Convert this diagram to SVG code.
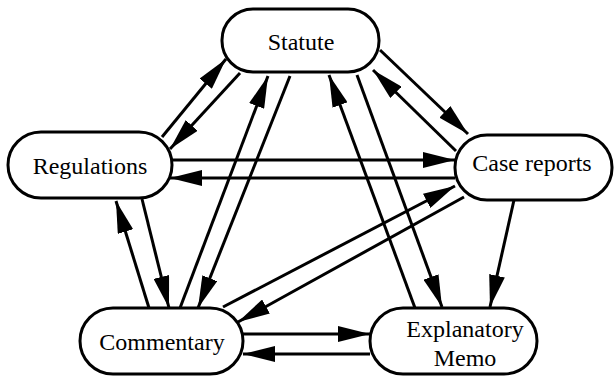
<svg xmlns="http://www.w3.org/2000/svg" width="615" height="376" viewBox="0 0 615 376">
<style>
.node rect{fill:#fff;stroke:#000;stroke-width:3}
.node text{font-family:"Liberation Serif","Times New Roman",serif;font-size:24px;fill:#000;text-anchor:middle}
#connectors line{stroke:#000;stroke-width:3;marker-end:url(#ah)}
</style>
<defs>
<marker id="ah" markerUnits="userSpaceOnUse" markerWidth="32" markerHeight="16" refX="30" refY="7.5" orient="auto" viewBox="0 0 30 15">
<path d="M0,0 L30,7.5 L0,15 z" fill="#000"/>
</marker>
</defs>
<rect width="615" height="376" fill="#fff"/>
<g id="connectors">
<line x1="162" y1="137" x2="226" y2="59"/>
<line x1="240" y1="73" x2="170" y2="149"/>
<line x1="172" y1="160" x2="455" y2="160"/>
<line x1="455" y1="178" x2="170" y2="178"/>
<line x1="142" y1="199" x2="169" y2="308"/>
<line x1="149" y1="308" x2="116" y2="201"/>
<line x1="180" y1="308" x2="268" y2="76"/>
<line x1="290" y1="76" x2="198" y2="308"/>
<line x1="415" y1="308" x2="329" y2="75"/>
<line x1="357" y1="75" x2="442" y2="307"/>
<line x1="456" y1="151" x2="373" y2="70"/>
<line x1="380" y1="50" x2="468" y2="134"/>
<line x1="223" y1="307" x2="455" y2="186"/>
<line x1="464" y1="197" x2="238" y2="322"/>
<line x1="514" y1="200" x2="490" y2="307"/>
<line x1="243" y1="334" x2="370" y2="334"/>
<line x1="370" y1="354" x2="243" y2="354"/>
</g>
<g id="statute" class="node">
<rect x="222" y="9" width="157" height="63" rx="31" ry="31"/>
<text x="301" y="50">Statute</text>
</g>
<g id="regulations" class="node">
<rect x="8" y="132" width="164" height="66" rx="33" ry="33"/>
<text x="90" y="174">Regulations</text>
</g>
<g id="case-reports" class="node">
<rect x="455" y="135" width="157" height="65" rx="32" ry="32"/>
<text x="532" y="171">Case reports</text>
</g>
<g id="commentary" class="node">
<rect x="80" y="308" width="163" height="66" rx="33" ry="33"/>
<text x="162" y="350">Commentary</text>
</g>
<g id="explanatory-memo" class="node">
<rect x="370" y="308" width="167" height="66" rx="33" ry="33"/>
<text x="465" y="337">Explanatory</text>
<text x="465" y="366">Memo</text>
</g>
</svg>
